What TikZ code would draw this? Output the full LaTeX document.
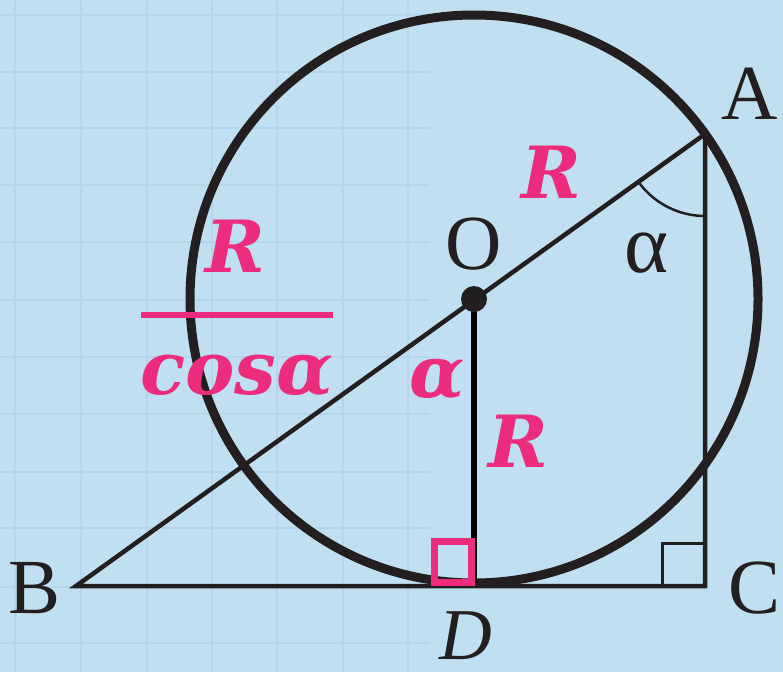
\documentclass[tikz,border=0pt]{standalone}
\usepackage{fontspec}
\usetikzlibrary{calc}
\setmainfont{Liberation Serif}
\newfontfamily\pinkfont{DejaVu Serif}
\definecolor{bgblue}{RGB}{192,224,241}
\definecolor{gridblue}{RGB}{181,214,234}
\definecolor{ink}{RGB}{35,31,32}
\definecolor{pinkc}{RGB}{236,44,124}
\tikzset{
  blacklabel/.style={inner sep=0pt, text=ink, font=\fontsize{78}{80}\selectfont},
  pinklabel/.style={inner sep=0pt, text=pinkc, font=\pinkfont\bfseries\itshape\fontsize{72}{74}\selectfont},
  tri/.style={draw=ink, line width=4.5pt, line join=miter},
  gridline/.style={draw=gridblue, line width=2.5pt}
}
\begin{document}
\begin{tikzpicture}[x=1pt,y=-1pt]
\useasboundingbox (0,0) rectangle (783,672);
\fill[bgblue] (0,0) rectangle (783,672);
% faint grid on the left part
\foreach \gx in {15,81,147,212,277,343,408} {
  \draw[gridline] (\gx,0) -- (\gx,672);
}
\foreach \gy in {15,72,128,185,242,300,357,414,472,528,587,643} {
  \draw[gridline] (0,\gy) -- (430,\gy);
}
% points
\coordinate (A) at (705,134);
\coordinate (B) at (76,586);
\coordinate (C) at (705,586);
\coordinate (O) at (474,299);
\coordinate (D) at (474,583);
% circle
\draw[ink, line width=9pt] (O) circle[radius=284];
% triangle
\draw[tri] (B) -- (C) -- (A) -- cycle;
% angle arc at A
\draw[ink, line width=2.5pt] (A) ++(144.3:82) arc[start angle=144.3, end angle=90, radius=82];
% right angle at C
\draw[ink, line width=3pt] ($(C)+(-43,0)$) -- ++(0,-43) -- ++(43,0);
% radius OD
\draw[black, line width=6.5pt] (O) -- (D);
% pink right-angle square at D
\draw[pinkc, line width=7pt] (434.5,541.5) rectangle (471.5,582);
% centre dot
\fill[ink] (O) circle[radius=13];
% labels
\node[blacklabel] (lA) at (750,94) {A};
\node[blacklabel] (lB) at (35,588) {B};
\node[blacklabel] (lC) at (754,588) {C};
\node[blacklabel] (lO) at (474,244) {O};
\node[blacklabel, font=\fontsize{84}{86}\selectfont] (la) at (646,253) {α};
\node[blacklabel, font=\itshape\fontsize{73}{75}\selectfont] (lD) at (466,636) {D};
\node[pinklabel] (R1) at (551,172) {R};
\node[pinklabel] (R2) at (518,441) {R};
\node[pinklabel] (al) at (437,380) {α};
\node[pinklabel] (R3) at (235,246) {R};
\node[pinklabel, font=\pinkfont\bfseries\itshape\fontsize{74}{76}\selectfont] (cs) at (237,376) {cosα};
\coordinate (barL) at (141,315);
\coordinate (barR) at (333,315);
\draw[pinkc, line width=6pt] (barL) -- (barR);
\end{tikzpicture}
\end{document}
